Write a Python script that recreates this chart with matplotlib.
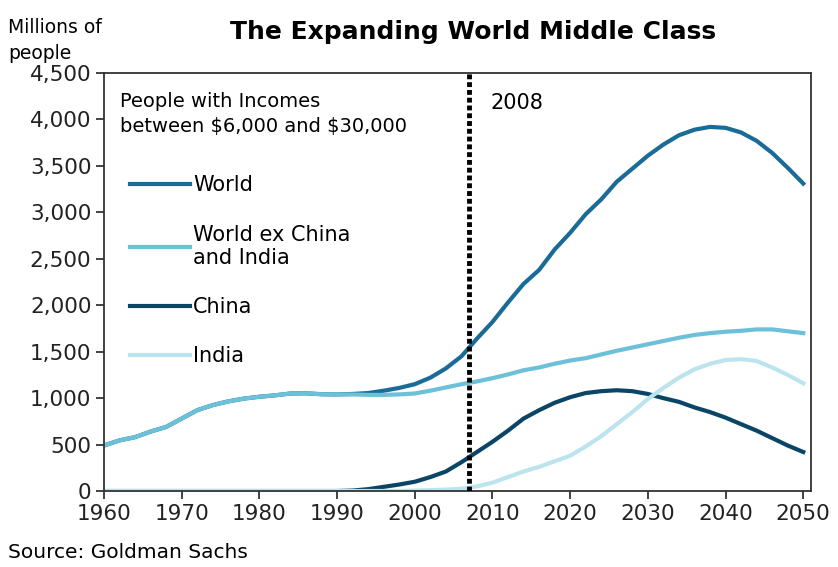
import matplotlib.pyplot as plt

plt.rcParams['font.family'] = ['DejaVu Sans']

years = list(range(1960, 2051, 2))

# millions of people with incomes between $6,000 and $30,000
world_ex = [490, 545, 580, 640, 690, 780, 870, 925, 965, 995, 1015, 1030,
            1050, 1052, 1042, 1040, 1040, 1035, 1035, 1040, 1050, 1080,
            1115, 1150, 1180, 1215, 1255, 1300, 1330, 1370, 1405, 1430,
            1470, 1510, 1545, 1580, 1615, 1650, 1680, 1700, 1715, 1725,
            1740, 1740, 1720, 1700]
china = [0] * 16 + [5, 20, 45, 70, 100, 150, 210, 310, 420, 530, 650, 780,
                    870, 950, 1010, 1055, 1075, 1085, 1075, 1045, 1000, 960,
                    900, 850, 790, 720, 650, 570, 490, 420]
india = [0] * 20 + [5, 10, 15, 25, 50, 90, 150, 210, 260, 320, 380, 480,
                    590, 720, 850, 990, 1110, 1220, 1310, 1370, 1410, 1420,
                    1400, 1330, 1250, 1160]
world = [490, 545, 580, 640, 690, 780, 870, 925, 965, 995, 1015, 1030,
         1050, 1052, 1042, 1040, 1045, 1055, 1080, 1110, 1150, 1220,
         1320, 1450, 1640, 1820, 2030, 2230, 2380, 2600, 2780, 2980,
         3140, 3330, 3470, 3610, 3730, 3830, 3890, 3920, 3910, 3860,
         3770, 3640, 3480, 3310]

marker_year = 2007
x_ticks = list(range(1960, 2051, 10))
y_ticks = list(range(0, 4501, 500))

fig = plt.figure(figsize=(8.38, 5.67), dpi=100)
ax = fig.add_axes([0.1241, 0.134, 0.8437, 0.7372])

ax.plot(years, world, color='#1A6B98', lw=3, label='World')
ax.plot(years, china, color='#0B4566', lw=3, label='China')
ax.plot(years, world_ex, color='#6CC0D8', lw=3, label='World ex China\nand India')
ax.plot(years, india, color='#BCE4EE', lw=3, label='India')
ax.axvline(marker_year, color='black', lw=3.5, linestyle=(0, (1, 0.6)), zorder=5)

ax.set_xlim(1960, 2051)
ax.set_ylim(0, 4500)
ax.set_xticks(x_ticks)
ax.set_yticks(y_ticks)
ax.set_yticklabels([f'{v:,}' for v in y_ticks])
ax.tick_params(axis='both', direction='out', length=6, width=1.2,
               labelsize=15.5, colors='#222222', pad=3)
for s in ax.spines.values():
    s.set_linewidth(1.3)
    s.set_color('#333333')

h, l = ax.get_legend_handles_labels()
order = [0, 2, 1, 3]
ax.legend([h[i] for i in order], [l[i] for i in order], loc='upper left',
          bbox_to_anchor=(0.01, 0.80), frameon=False, fontsize=15,
          handlelength=2.9, handletextpad=0.15, labelspacing=1.4)

ax.text(0.023, 0.955, 'People with Incomes\nbetween \\$6,000 and \\$30,000',
        transform=ax.transAxes, ha='left', va='top', fontsize=14,
        linespacing=1.4)
ax.text(0.546, 0.928, '2008', transform=ax.transAxes, ha='left',
        va='center', fontsize=15)

fig.text(0.01, 0.968, 'Millions of\npeople', ha='left', va='top',
         fontsize=13.5, linespacing=1.45)
fig.text(0.565, 0.944, 'The Expanding World Middle Class', ha='center',
         va='center', fontsize=18, fontweight='bold')
fig.text(0.01, 0.025, 'Source: Goldman Sachs', ha='left', va='center',
         fontsize=14.5)

fig.savefig('out.png', dpi=100)
